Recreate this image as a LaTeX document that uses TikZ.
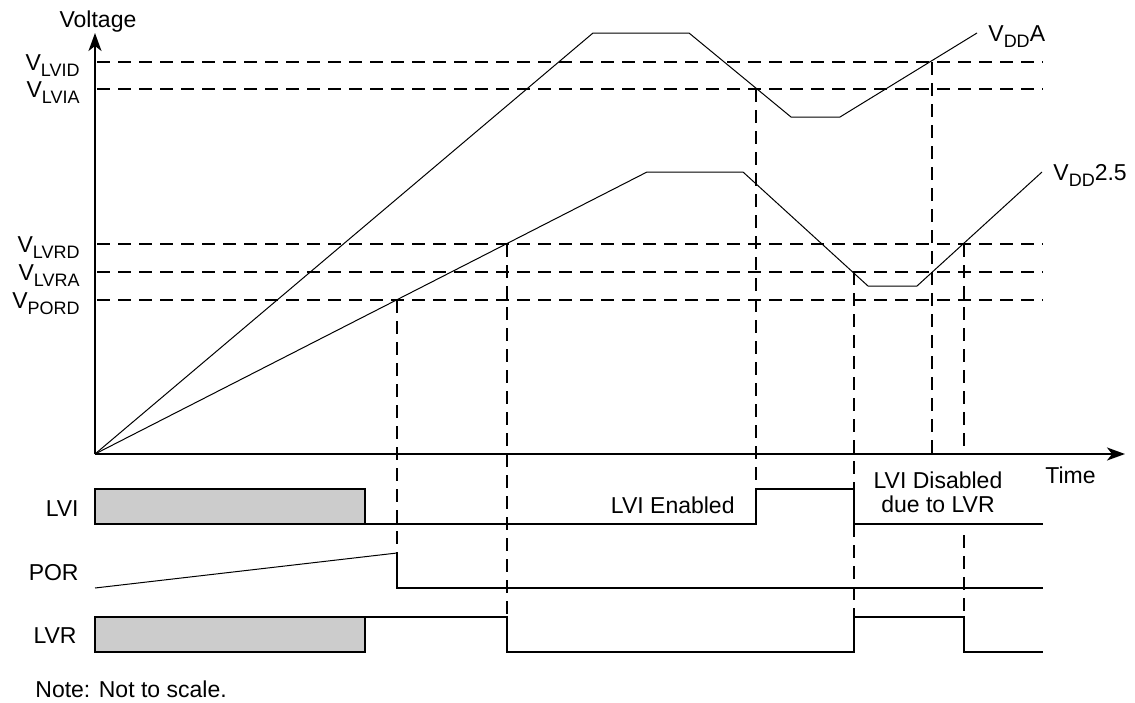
\documentclass[tikz,border=0pt]{standalone}
\usepackage{fontspec}
\setmainfont{Liberation Sans}
\usetikzlibrary{positioning,arrows.meta}
\newcommand{\vsub}[1]{V\raisebox{-3pt}{\fontsize{9}{9}\selectfont #1}}

\begin{document}
\begin{tikzpicture}[x=0.5pt,y=-0.5pt,
  font=\fontsize{11.5}{13}\selectfont,
  lbl/.style={inner sep=0pt},
  axis/.style={line width=1pt,-{Stealth[length=9pt,width=6.5pt,inset=2.5pt]}},
  level/.style={dash pattern=on 6.5pt off 4pt,line width=0.85pt},
  curve/.style={line width=0.5pt},
  sig/.style={line width=1pt},
  greybox/.style={sig,fill=black!20}]
\useasboundingbox (0,0) rectangle (1135,702);
\coordinate (o) at (95,454);
\coordinate (vtop) at (95,33);
\coordinate (tend) at (1125,454);
\draw[axis] (o)--(vtop);
\draw[axis] (o)--(tend);
\node[lbl,anchor=base](voltage) at (98,27){Voltage};
\node[lbl,anchor=base west](time) at (1045,483){Time};
% threshold levels
\foreach \y/\nm/\txt in {62/lvid/LVID,89/lvia/LVIA,244/lvrd/LVRD,272/lvra/LVRA,300/pord/PORD}{
  \coordinate (\nm) at (97,\y);
  \draw[level] (\nm)--(1043,\y);
  \node[lbl,anchor=base east](l\nm) at (80,\y+8){\vsub{\txt}};
}
% supply ramps
\coordinate (a1) at (593,33);
\coordinate (a2) at (689,33);
\coordinate (a3) at (791,117);
\coordinate (a4) at (840,117);
\coordinate (a5) at (977,33);
\draw[curve] (o)--(a1)--(a2)--(a3)--(a4)--(a5);
\node[lbl,anchor=base west](vdda) at (988,41){\vsub{DD}A};
\coordinate (b1) at (647,172);
\coordinate (b2) at (743,172);
\coordinate (b3) at (868,286);
\coordinate (b4) at (917,286);
\coordinate (b5) at (1042,172);
\draw[curve] (o)--(b1)--(b2)--(b3)--(b4)--(b5);
\node[lbl,anchor=base west](vdd) at (1053,180){\vsub{DD}2.5};
% signals
\node[lbl,anchor=base east](lvi) at (79,516){LVI};
\node[lbl,anchor=base east](por) at (79,580){POR};
\node[lbl,anchor=base east](lvr) at (77,643){LVR};
\draw[greybox] (95,489) rectangle (365,524);
\draw[sig] (365,524)--(756,524)--(756,489)--(854,489)--(854,524)--(1043,524);
\draw[curve] (95,588)--(397,553);
\draw[sig] (397,553)--(397,588)--(1043,588);
\draw[greybox] (95,617) rectangle (365,652);
\draw[sig] (365,617)--(507,617)--(507,652)--(854,652)--(854,617)--(964,617)--(964,652)--(1043,652);
\node[lbl,anchor=base east](en) at (735,513){LVI Enabled};
\node[lbl,anchor=base](dis1) at (938,488){LVI Disabled};
\node[lbl,anchor=base](dis2) at ([yshift=-12pt]dis1.base){due to LVR};
% trip points
\draw[level] (397,300)--(397,553);
\draw[level] (507,244)--(507,617);
\draw[level] (756,89)--(756,489);
\draw[level] (854,272)--(854,617);
\draw[level] (932,62)--(932,454);
\draw[level] (964,244)--(964,454) (964,535)--(964,617);
\node[lbl,anchor=base west](note) at (35,697){Note: Not to scale.};
\end{tikzpicture}
\end{document}
